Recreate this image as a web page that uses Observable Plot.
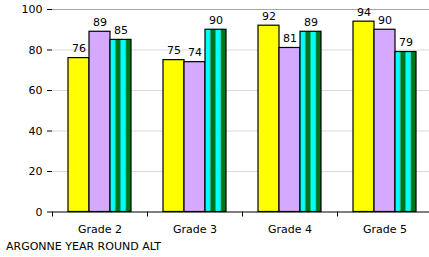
<!DOCTYPE html>
<html><head><meta charset="utf-8">
<script src="https://cdn.jsdelivr.net/npm/d3@7"></script>
<script src="https://cdn.jsdelivr.net/npm/@observablehq/plot@0.6"></script>
<style>
body{margin:0;background:#fff;font-family:"DejaVu Sans",Verdana,sans-serif;}
#caption{font-size:11px;line-height:14px;padding-left:6px;color:#000;white-space:nowrap;}
</style></head><body>
<div id="chart"></div>
<div id="caption">ARGONNE YEAR ROUND ALT</div>
<script>
const grades = ["Grade 2", "Grade 3", "Grade 4", "Grade 5"];
const seriesNames = ["Series 1", "Series 2", "Series 3"];
const series1 = [76, 75, 92, 94];
const series2 = [89, 74, 81, 90];
const series3 = [85, 90, 89, 79];
const yTicks = [0, 20, 40, 60, 80, 100];

const seriesValues = [series1, series2, series3];
const rows = [];
seriesValues.forEach((vals, i) => vals.forEach((v, j) => rows.push({grade: grades[j], series: seriesNames[i], value: v})));

const xRange = [52, 432];
const bandW = (xRange[1] - xRange[0]) / grades.length;
const barW = 21;
const pad = (bandW - barW * seriesNames.length) / 2;
const fills = ["#FFFF00", "#D5A9FF", "url(#stripes)"];

const defs = () => {
  const d = d3.create("svg:defs");
  const p = d.append("pattern").attr("id", "stripes")
    .attr("patternUnits", "objectBoundingBox")
    .attr("patternContentUnits", "objectBoundingBox")
    .attr("width", 0.5).attr("height", 1);
  p.append("rect").attr("x", 0).attr("width", 0.25).attr("height", 1).attr("fill", "#00FFFF");
  p.append("rect").attr("x", 0.25).attr("width", 0.25).attr("height", 1).attr("fill", "#00761C");
  return d.node();
};

const bars = seriesNames.map((s, i) => Plot.barY(rows.filter(d => d.series === s), {
  x: "grade", y: "value", fill: fills[i], stroke: "black", strokeWidth: 1.2,
  insetLeft: pad + i * barW, insetRight: bandW - pad - (i + 1) * barW
}));
const labels = seriesNames.map((s, i) => Plot.text(rows.filter(d => d.series === s), {
  x: "grade", y: "value", text: d => String(d.value), dx: (i - 1) * barW, dy: -6,
  lineAnchor: "bottom", fontSize: 11, fill: "black"
}));

const chart = Plot.plot({
  width: 429, height: 240,
  marginLeft: 52, marginRight: 0, marginTop: 9, marginBottom: 28.5,
  style: {fontFamily: "'DejaVu Sans', Verdana, sans-serif", fontSize: "11px", background: "white", color: "black"},
  x: {domain: grades, range: xRange, padding: 0},
  y: {domain: [0, 100]},
  marks: [
    defs,
    Plot.gridY(yTicks.filter(t => t > 0 && t < 100), {stroke: "#d9d9d9", strokeOpacity: 1}),
    Plot.ruleY([100], {stroke: "#a6a6a6"}),
    ...bars,
    ...labels,
    Plot.axisY({ticks: yTicks, tickSize: 5, tickPadding: 5, label: null, line: true, fontSize: 11}),
    Plot.ruleY([0], {stroke: "black"}),
    Plot.axisX({tickSize: 0, tickPadding: 13, label: null, fontSize: 11}),
    Plot.axisX({tickSize: 5, tickFormat: () => "", dx: -bandW / 2, label: null})
  ]
});
document.getElementById("chart").appendChild(chart);
</script>
</body></html>
